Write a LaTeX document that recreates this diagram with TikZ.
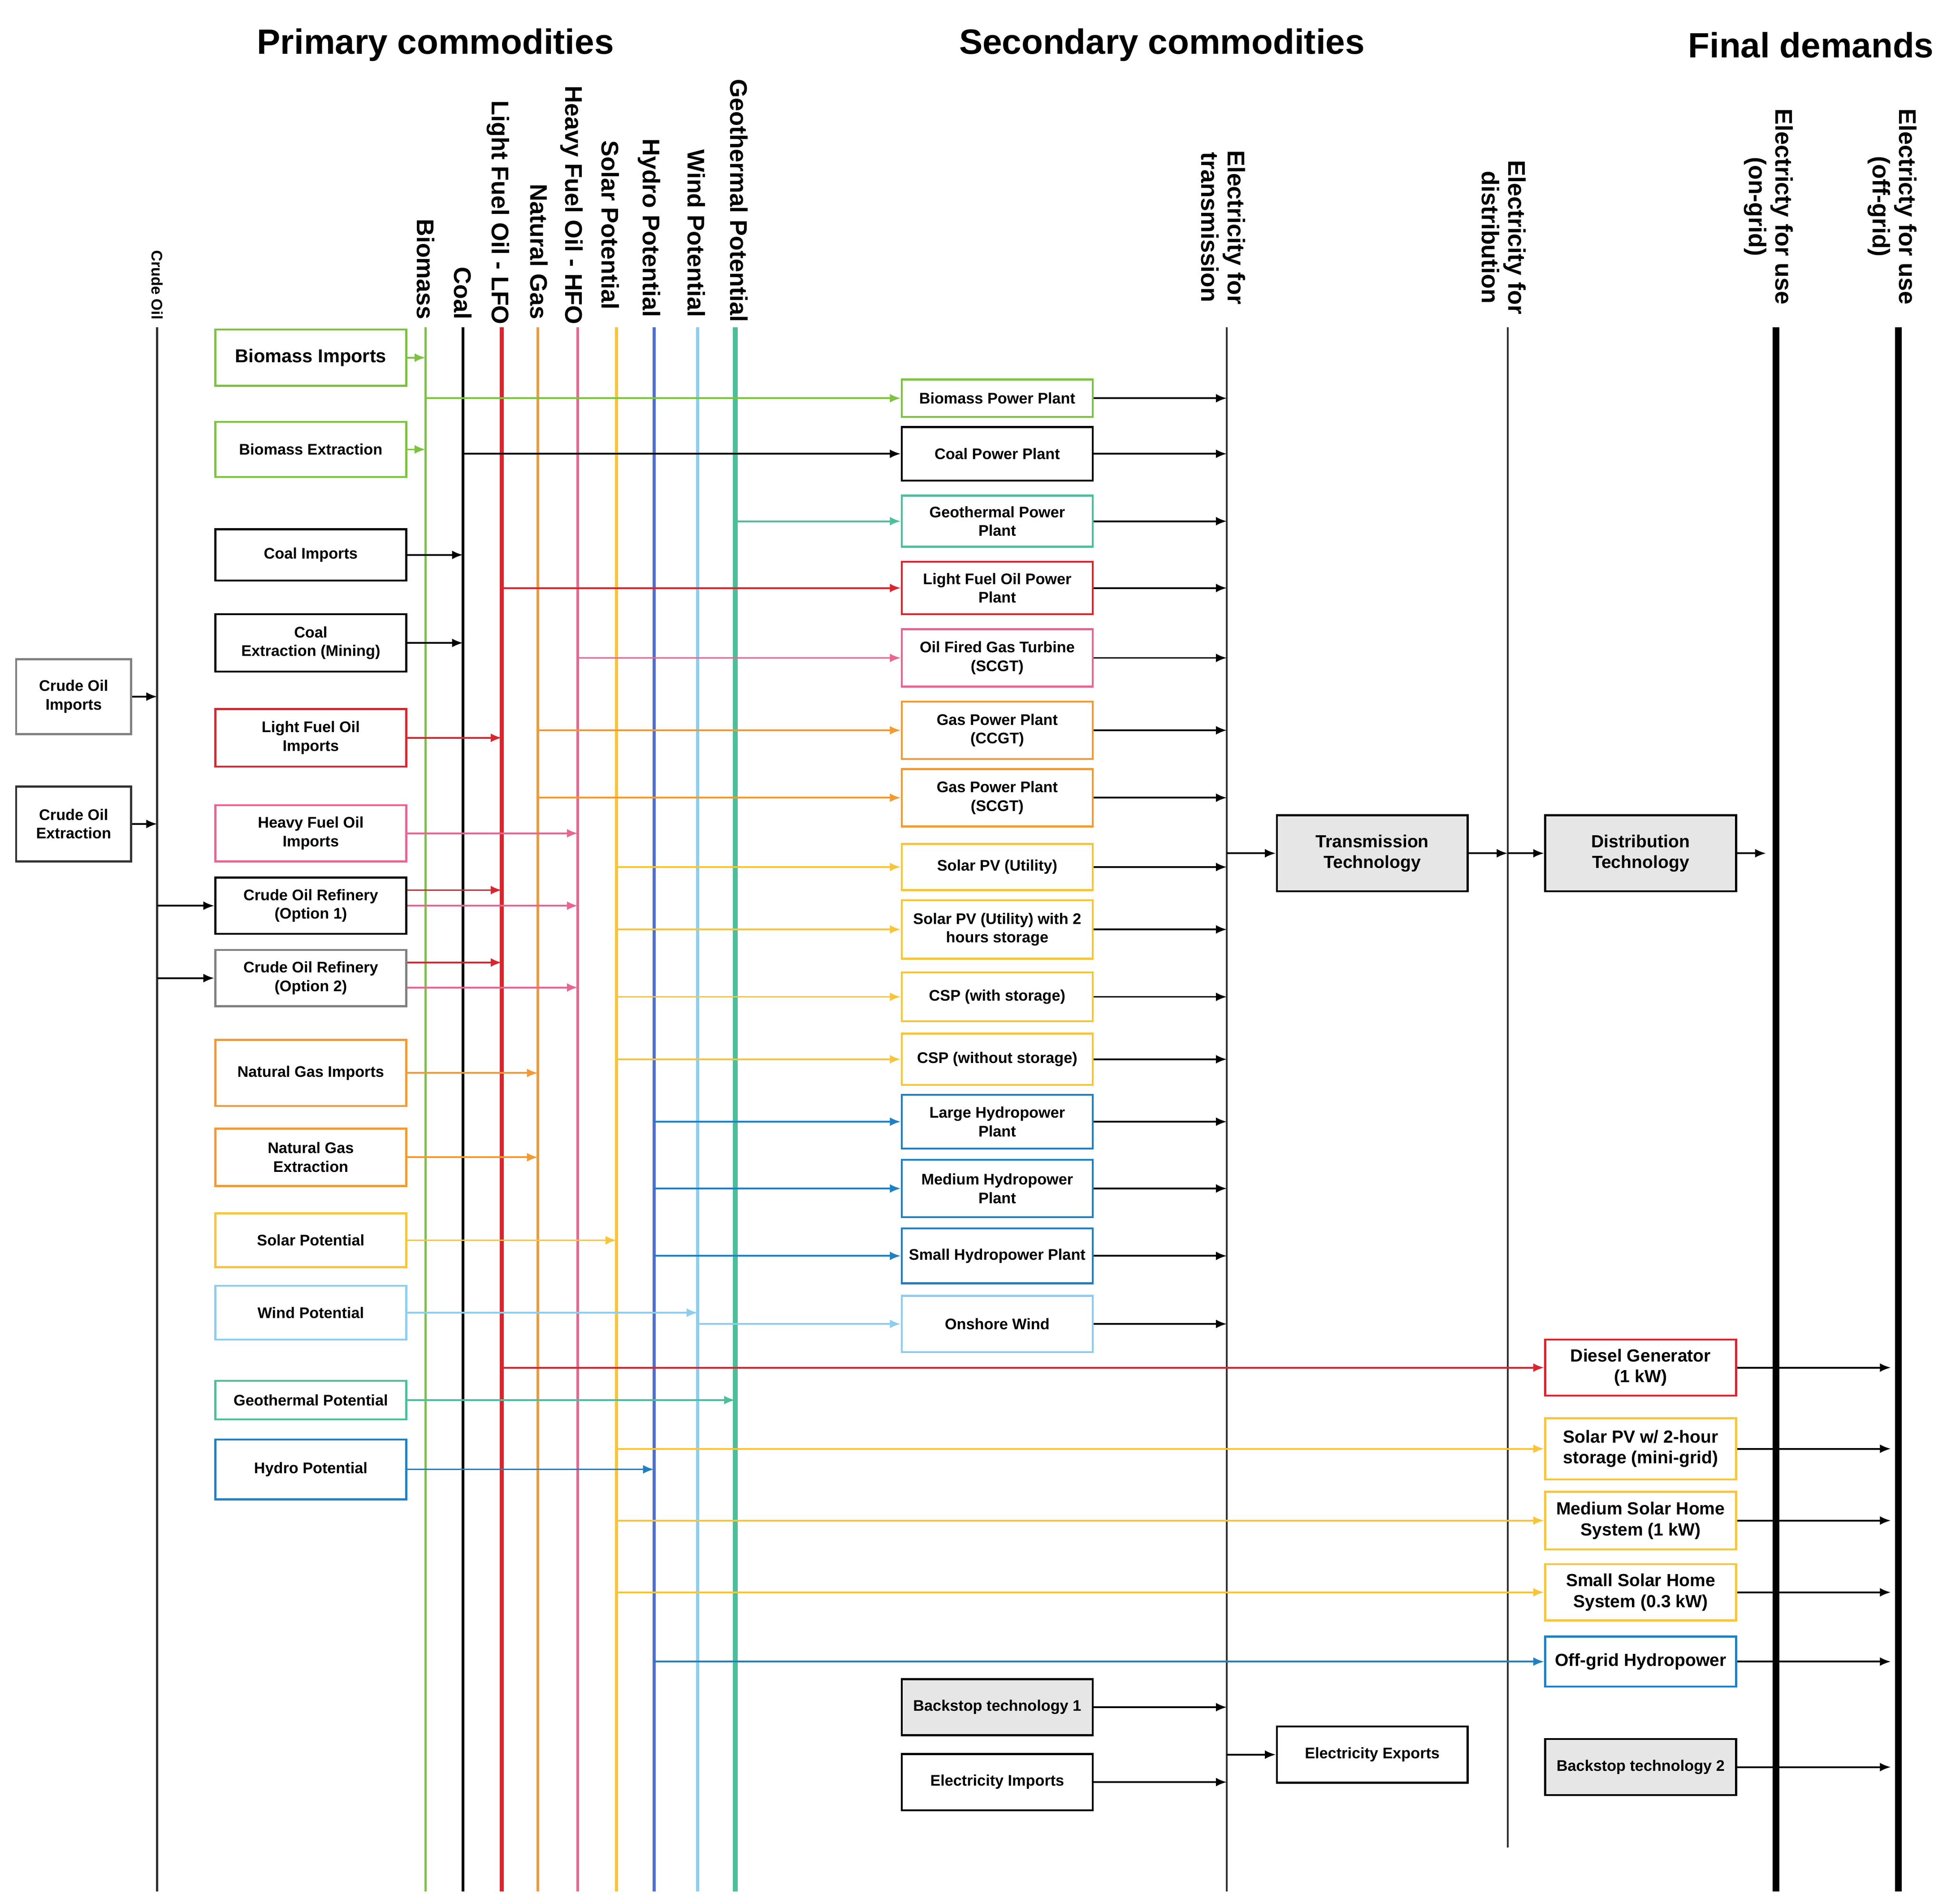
\documentclass[tikz,border=0pt]{standalone}
\usepackage{fontspec}
\setmainfont{Liberation Sans}
\usetikzlibrary{arrows.meta}
\definecolor{cgreen}{HTML}{7DC242}
\definecolor{cred}{HTML}{D9262E}
\definecolor{corange}{HTML}{F39A32}
\definecolor{cpink}{HTML}{E8668F}
\definecolor{cyellow}{HTML}{F8C53A}
\definecolor{cblue}{HTML}{1F80C3}
\definecolor{cviolet}{HTML}{4F70CC}
\definecolor{clight}{HTML}{8DCDF0}
\definecolor{cteal}{HTML}{4DBE9C}
\definecolor{cgray}{HTML}{E6E6E6}
\definecolor{cdark}{HTML}{333333}
\begin{document}
\begin{tikzpicture}[x=0.02cm,y=-0.02cm,
 box/.style={draw=#1,line width=0.9pt,fill=white,align=center,inner sep=1pt,font=\fontsize{7}{8.5}\selectfont\bfseries},
 lb/.style={box=#1,minimum width=3.06cm},
 mb/.style={box=#1,minimum width=3.06cm},
 rb/.style={box=#1,minimum width=3.06cm,font=\fontsize{8}{9.5}\selectfont\bfseries},
 arr/.style={line width=0.8pt,-{Latex[length=5pt,width=4pt]}},
 vl/.style={line width=1pt},
 vlab/.style={rotate=-90,anchor=east,align=center,font=\fontsize{11}{12}\selectfont\bfseries,inner sep=1pt},
 title/.style={font=\fontsize{16}{18}\selectfont\bfseries}]
\useasboundingbox (0,0) rectangle (1560,1525);
% titles
\node[title] (t1) at (349,36) {Primary commodities};
\node[title] (t2) at (931,36) {Secondary commodities};
\node[title] (t3) at (1451,36) {Final demands};
% vertical lines
\foreach \n/\x/\c/\w/\yb in {cr/126/cdark/1pt/1515, bio/341/cgreen/1.1pt/1515, coal/371/black/1.1pt/1515, lfo/402/cred/1.9pt/1515, ng/431/corange/1.1pt/1515, hfo/463/cpink/1.3pt/1515, sol/494/cyellow/1.3pt/1515, hyd/524/cviolet/1.4pt/1515, wind/559/clight/1.4pt/1515, geo/589/cteal/2.2pt/1515, et/983/cdark/0.8pt/1515, ed/1208/cdark/0.8pt/1480, on/1423/black/3pt/1515, off/1521/black/3pt/1515}{
 \coordinate (\n T) at (\x,262); \coordinate (\n B) at (\x,\yb);
 \draw[color=\c,line width=\w] (\n T) -- (\n B);}
% vertical labels
\node[vlab,font=\fontsize{7}{8}\selectfont\bfseries] (lcr) at (126,258) {Crude Oil};
\node[vlab] (lbio) at (341,258) {Biomass};
\node[vlab] (lcoal) at (371,258) {Coal};
\node[vlab] (llfo) at (399,262) {Light Fuel Oil - LFO};
\node[vlab] (lng) at (432,258) {Natural Gas};
\node[vlab] (lhfo) at (458,262) {Heavy Fuel Oil - HFO};
\node[vlab] (lsol) at (489,250) {Solar Potential};
\node[vlab] (lhyd) at (520,256) {Hydro Potential};
\node[vlab] (lwind) at (558,256) {Wind Potential};
\node[vlab] (lgeo) at (592,260) {Geothermal Potential};
\node[vlab] (let) at (980,246) {Electricity for\\transmission};
\node[vlab] (led) at (1205,254) {Electricity for\\distribution};
\node[vlab] (lon) at (1417,246) {Electricty for use\\(on-grid)};
\node[vlab] (loff) at (1516,246) {Electricty for use\\(off-grid)};
% left boxes
\node[lb=cgreen,minimum height=0.9cm,font=\fontsize{8.5}{10}\selectfont\bfseries] (bimp) at (249,286.5) {Biomass Imports};
\node[lb=cgreen,minimum height=0.88cm] (bext) at (249,360) {Biomass Extraction};
\node[lb=black,minimum height=0.82cm] (cimp) at (249,444.5) {Coal Imports};
\node[lb=black,minimum height=0.92cm] (cext) at (249,515) {Coal\\Extraction (Mining)};
\node[lb=cred,minimum height=0.92cm] (limp) at (249,591) {Light Fuel Oil\\Imports};
\node[lb=cpink,minimum height=0.9cm] (himp) at (249,667.5) {Heavy Fuel Oil\\Imports};
\node[lb=black,minimum height=0.9cm] (ref1) at (249,725.5) {Crude Oil Refinery\\(Option 1)};
\node[lb=gray,minimum height=0.9cm] (ref2) at (249,783.5) {Crude Oil Refinery\\(Option 2)};
\node[lb=corange,minimum height=1.06cm] (nimp) at (249,859.5) {Natural Gas Imports};
\node[lb=corange,minimum height=0.92cm] (next) at (249,927) {Natural Gas\\Extraction};
\node[lb=cyellow,minimum height=0.86cm] (spot) at (249,993.5) {Solar Potential};
\node[lb=clight,minimum height=0.86cm] (wpot) at (249,1051.5) {Wind Potential};
\node[lb=cteal,minimum height=0.62cm] (gpot) at (249,1121.5) {Geothermal Potential};
\node[lb=cblue,minimum height=0.96cm] (hpot) at (249,1177) {Hydro Potential};
\node[box=gray,minimum width=1.84cm,minimum height=1.2cm] (coimp) at (59,558) {Crude Oil\\Imports};
\node[box=cdark,minimum width=1.84cm,minimum height=1.2cm] (coext) at (59,660) {Crude Oil\\Extraction};
% left arrows
\draw[arr,cgreen] (bimp.east) -- (bimp.east -| bioT);
\draw[arr,cgreen] (bext.east) -- (bext.east -| bioT);
\draw[arr] (cimp.east) -- (cimp.east -| coalT);
\draw[arr] (cext.east) -- (cext.east -| coalT);
\draw[arr] (coimp.east) -- (coimp.east -| crT);
\draw[arr] (coext.east) -- (coext.east -| crT);
\draw[arr,cred] (limp.east) -- (limp.east -| lfoT);
\draw[arr,cpink] (himp.east) -- (himp.east -| hfoT);
\draw[arr] (crT |- ref1.west) -- (ref1.west);
\draw[arr] (crT |- ref2.west) -- (ref2.west);
\draw[arr,cred] ([yshift=0.25cm]ref1.east) -- ([yshift=0.25cm]ref1.east -| lfoT);
\draw[arr,cpink] (ref1.east) -- (ref1.east -| hfoT);
\draw[arr,cred] ([yshift=0.25cm]ref2.east) -- ([yshift=0.25cm]ref2.east -| lfoT);
\draw[arr,cpink] ([yshift=-0.15cm]ref2.east) -- ([yshift=-0.15cm]ref2.east -| hfoT);
\draw[arr,corange] (nimp.east) -- (nimp.east -| ngT);
\draw[arr,corange] (next.east) -- (next.east -| ngT);
\draw[arr,cyellow] (spot.east) -- (spot.east -| solT);
\draw[arr,clight] (wpot.east) -- (wpot.east -| windT);
\draw[arr,cteal] (gpot.east) -- (gpot.east -| geoT);
\draw[arr,cblue] (hpot.east) -- (hpot.east -| hydT);
% middle boxes: name/y/height/color/src/text
\foreach \n/\y/\h/\c/\s/\t in {
 bpp/319/0.6/cgreen/bio/{Biomass Power Plant},
 cpp/363.5/0.86/black/coal/{Coal Power Plant},
 gpp/417.5/0.82/cteal/geo/{Geothermal Power\\Plant},
 lpp/471/0.84/cred/lfo/{Light Fuel Oil Power\\Plant},
 ogt/527/0.92/cpink/hfo/{Oil Fired Gas Turbine\\(SCGT)},
 gcc/585/0.92/corange/ng/{Gas Power Plant\\(CCGT)},
 gsc/639/0.92/corange/ng/{Gas Power Plant\\(SCGT)},
 spv/694.5/0.74/cyellow/sol/{Solar PV (Utility)},
 spv2/744.5/0.94/cyellow/sol/{Solar PV (Utility) with 2\\hours storage},
 csp1/798.5/0.78/cyellow/sol/{CSP (with storage)},
 csp2/848.5/0.82/cyellow/sol/{CSP (without storage)},
 lhy/898.5/0.86/cblue/hyd/{Large Hydropower\\Plant},
 mhy/952/0.92/cblue/hyd/{Medium Hydropower\\Plant},
 shy/1006/0.88/cblue/hyd/{Small Hydropower Plant},
 onw/1060.5/0.9/clight/wind/{Onshore Wind}}{
 \node[mb=\c,minimum height=\h cm] (\n) at (799,\y) {\t};
 \draw[arr] (\n.east) -- (\n.east -| etT);}
\draw[arr,cgreen] (bioT |- bpp.west) -- (bpp.west);
\draw[arr] (coalT |- cpp.west) -- (cpp.west);
\draw[arr,cteal] (geoT |- gpp.west) -- (gpp.west);
\draw[arr,cred] (lfoT |- lpp.west) -- (lpp.west);
\draw[arr,cpink] (hfoT |- ogt.west) -- (ogt.west);
\draw[arr,corange] (ngT |- gcc.west) -- (gcc.west);
\draw[arr,corange] (ngT |- gsc.west) -- (gsc.west);
\draw[arr,cyellow] (solT |- spv.west) -- (spv.west);
\draw[arr,cyellow] (solT |- spv2.west) -- (spv2.west);
\draw[arr,cyellow] (solT |- csp1.west) -- (csp1.west);
\draw[arr,cyellow] (solT |- csp2.west) -- (csp2.west);
\draw[arr,cblue] (hydT |- lhy.west) -- (lhy.west);
\draw[arr,cblue] (hydT |- mhy.west) -- (mhy.west);
\draw[arr,cblue] (hydT |- shy.west) -- (shy.west);
\draw[arr,clight] (windT |- onw.west) -- (onw.west);
% backstop, imports, exports
\node[mb=black,fill=cgray,minimum height=0.9cm] (bs1) at (799,1367.5) {Backstop technology 1};
\node[mb=black,minimum height=0.9cm] (eimp) at (799,1427.5) {Electricity Imports};
\draw[arr] (bs1.east) -- (bs1.east -| etT);
\draw[arr] (eimp.east) -- (eimp.east -| etT);
\node[mb=black,minimum height=0.9cm] (eexp) at (1099.5,1405.5) {Electricity Exports};
\draw[arr] (etT |- eexp.west) -- (eexp.west);
% transmission / distribution
\node[rb=black,fill=cgray,minimum height=1.22cm] (tt) at (1099.5,683.5) {Transmission\\Technology};
\node[rb=black,fill=cgray,minimum height=1.22cm] (dt) at (1314.5,683.5) {Distribution\\Technology};
\draw[arr] (etT |- tt.west) -- (tt.west);
\draw[arr] (tt.east) -- (tt.east -| edT);
\draw[arr] (edT |- dt.west) -- (dt.west);
\draw[arr] (dt.east) -- ([xshift=-0.16cm]dt.east -| onT);
% right boxes
\foreach \n/\y/\h/\c/\t in {
 dg/1095.5/0.9/cred/{Diesel Generator\\(1 kW)},
 mg/1160.5/0.98/cyellow/{Solar PV w/ 2-hour\\storage (mini-grid)},
 msh/1218/0.92/cyellow/{Medium Solar Home\\System (1 kW)},
 ssh/1275.5/0.9/cyellow/{Small Solar Home\\System (0.3 kW)},
 ohy/1331/0.8/cblue/{Off-grid Hydropower}}{
 \node[rb=\c,minimum height=\h cm] (\n) at (1314.5,\y) {\t};
 \draw[arr] (\n.east) -- ([xshift=-0.12cm]\n.east -| offT);}
\node[box=black,fill=cgray,minimum width=3.06cm,minimum height=0.9cm] (bs2) at (1314.5,1415.5) {Backstop technology 2};
\draw[arr] (bs2.east) -- ([xshift=-0.12cm]bs2.east -| offT);
\draw[arr,cred] (lfoT |- dg.west) -- (dg.west);
\draw[arr,cyellow] (solT |- mg.west) -- (mg.west);
\draw[arr,cyellow] (solT |- msh.west) -- (msh.west);
\draw[arr,cyellow] (solT |- ssh.west) -- (ssh.west);
\draw[arr,cblue] (hydT |- ohy.west) -- (ohy.west);
\end{tikzpicture}
\end{document}
